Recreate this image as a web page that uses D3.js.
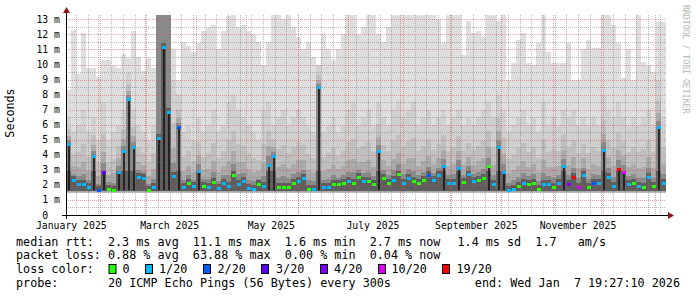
<!DOCTYPE html>
<html>
<head>
<meta charset="utf-8">
<script src="https://cdn.jsdelivr.net/npm/d3@7"></script>
<style>
    body { margin: 0; background: #ffffff; }
    text { font-family: "DejaVu Sans Mono", monospace; white-space: pre; }
</style>
</head>
<body>
<div id="mainChart"></div>
<script>
// time range of the graph (360 days ending at "end:")
var startTime = new Date(Date.UTC(2025, 0, 12, 19, 27, 10));
var endTime = new Date(Date.UTC(2026, 0, 7, 19, 27, 10));
var binDays = 3;

// smoke: top of the lightest smoke, top of the middle smoke, median rtt (ms), lost pings of 20
var topRtt = [8.3, 12.3, 9.4, 12.1, 9.8, 9.8, 9.2, 10.3, 10.3, 9.9, 9.8, 10.7, 10.4, 12.2, 10.5, 9.6, 10.4, 9.8,
    13.3, 13.3, 13.3, 11, 9.0,
    11.5, 11.2, 10.8, 11.4, 12.2, 12.4, 12.6, 11.0, 12.2, 13.2, 13.3, 12.5, 12.6, 12.2, 12.0, 11.5, 10.0, 11.5, 13.3, 13.3, 13.0, 13.3, 12.5, 11.8,
    11.0, 11.5, 10.5, 10.0, 12.0, 11.0, 10.3, 11.0, 12.0, 13.3, 13.3, 12.0, 12.5, 13.3, 13.3, 12.0, 11.5, 12.5, 13.3, 13.3, 13.3, 13.3, 13.3, 13.3,
    13.3, 13.3, 13.3, 13.0, 11.4, 13.3, 13.3, 13.3, 10.6, 12.9, 12.1, 12.2, 11.8, 13.3, 13.3, 12.9, 13.3, 9.0, 10.1, 11.6, 12.1, 10.1, 10.0, 11.4,
    13.3, 10.8, 10.1, 10.1, 10.1, 11.4, 9.0, 9.0, 11.0, 11.6, 11.1, 11.1, 13.3, 13.3, 12.6, 11.4, 9.1, 11.0, 9.0, 13.3, 10.2, 10.0, 9.5, 12.8, 12.8];

var midRtt = [6.5, 5.5, 6, 7, 5.5, 6.5, 5, 7.5, 5, 5.5, 6, 7, 9.5, 7, 6, 5.5, 5, 6,
    13.3, 13.3, 13.3, 9, 8,
    5.5, 6, 5, 6.5, 5.5, 6, 7, 5.5, 6, 7.5, 8, 7, 6.5, 6, 5.5, 5, 7, 7.5, 6, 6.5, 7, 6, 6.5, 7,
    6.5, 6, 5.5, 10, 5.5, 6, 6.5, 5.5, 6, 7, 7.5, 6, 6.5, 7, 6, 7.5, 6.5, 6, 7, 7.5, 6.5, 7, 7.5, 6,
    6.5, 7, 6, 6.5, 7, 6, 6.5, 7, 6, 6.5, 6, 6.5, 7, 7.5, 6.5, 8, 7, 5.5, 6, 6.5, 7, 6, 6.5, 5.5,
    7.5, 6, 6.5, 6, 7, 6.5, 7, 6, 6.5, 6, 6.5, 6, 8, 7, 6.5, 7.5, 6.5, 6, 6.5, 6, 6.5, 7, 6, 9, 6.5];

var medianRtt = [4.7, 2.3, 2.0, 2.0, 1.8, 3.9, 1.6, 2.8, 1.7, 1.6, 2.8, 4.2, 7.7, 4.5, 2.5, 2.4, 1.6, 1.8,
    5.1, 11.1, 6.8, 2.55, 5.8,
    1.8, 2.1, 1.9, 2.9, 1.9, 1.8, 2.15, 1.75, 2.1, 1.9, 2.6, 2.0, 2.2, 1.75, 1.7, 2.0, 1.9, 3.3, 3.9, 1.8, 1.85, 1.85, 2.1, 2.2,
    2.4, 1.7, 1.7, 8.5, 1.8, 1.8, 2.0, 2.0, 2.1, 2.2, 2.1, 2.5, 2.2, 2.2, 2.0, 4.2, 2.4, 2.1, 2.3, 2.7, 2.1, 2.4, 2.2, 2.1,
    2.3, 2.6, 2.3, 2.6, 3.2, 2.1, 2.1, 3.1, 2.15, 2.7, 2.2, 2.3, 2.4, 3.2, 2.0, 4.5, 2.8, 1.6, 1.7, 1.9, 2.1, 2.0, 2.1, 1.7,
    2.0, 2.0, 1.8, 2.1, 3.2, 2.0, 2.5, 1.85, 2.6, 1.8, 2.1, 2.1, 4.3, 2.5, 1.9, 3.0, 2.8, 2.0, 2.1, 1.9, 1.8, 2.5, 1.9, 5.8, 2.1];

var lossCount = [1, 1, 1, 1, 1, 1, 2, 3, 0, 0, 1, 1, 1, 1, 1, 1, 0, 1,
    1, 1, 1, 1, 2,
    1, 0, 1, 1, 0, 1, 0, 1, 1, 1, 0, 1, 1, 1, 1, 0, 1, 1, 1, 0, 0, 0, 0, 1,
    1, 0, 1, 1, 1, 1, 0, 0, 0, 1, 0, 0, 1, 0, 0, 1, 0, 0, 1, 0, 1, 1, 0, 0,
    0, 2, 1, 1, 1, 1, 1, 1, 0, 1, 1, 0, 0, 0, 1, 1, 1, 1, 1, 0, 1, 0, 0, 0,
    1, 1, 0, 1, 1, 4, 19, 10, 1, 0, 2, 1, 1, 1, 1, 19, 10, 1, 0, 1, 0, 1, 0, 1, 1];

var lowestRtt = 1.45;

var yTicks = [0, 1, 2, 3, 4, 5, 6, 7, 8, 9, 10, 11, 12, 13];
var yTickLabels = ["0  ", "1 m", "2 m", "3 m", "4 m", "5 m", "6 m", "7 m", "8 m", "9 m", "10 m", "11 m", "12 m", "13 m"];

var lossLevels = [0, 1, 2, 3, 4, 10, 19];
var lossColors = ["#26ff00", "#00b8ff", "#0059ff", "#5e00ff", "#7e00ff", "#dd00ff", "#ff0000"];
var lossLabels = ["0", "1/20", "2/20", "3/20", "4/20", "10/20", "19/20"];

var medianLine = ["median rtt:  2.3 ms avg  11.1 ms max  1.6 ms min  2.7 ms now", "1.4 ms sd  1.7   am/s"];
var lossLine = "packet loss: 0.88 % avg  63.88 % max  0.00 % min  0.04 % now";
var probeLine = "probe:       20 ICMP Echo Pings (56 Bytes) every 300s";
var endLine = "end: Wed Jan  7 19:27:10 2026";

var width = 697, height = 297;

var svg = d3.select("#mainChart").append("svg")
    .attr("width", width)
    .attr("height", height);

var x = d3.scaleUtc().domain([startTime, endTime]).range([66, 666]);
var y = d3.scaleLinear().domain([0, 13.29]).range([215, 15]);

function lossColor(n) {
    var c = lossColors[0];
    lossLevels.forEach(function (lvl, i) { if (n >= lvl) c = lossColors[i]; });
    return c;
}

var bins = medianRtt.map(function (m, i) {
    return {
        t0: d3.utcDay.offset(startTime, binDays * i),
        t1: d3.utcDay.offset(startTime, binDays * (i + 1)),
        top: topRtt[i], mid: midRtt[i], med: m, loss: lossCount[i]
    };
});

// smoke layers, outermost first (lighter far from the median);
// where the middle smoke fills the whole height the darker smoke does too
var layers = [
    {fill: "#dedede", lo: lowestRtt, hi: function (d) { return d.top; }},
    {fill: "#d0d0d0", lo: lowestRtt + 0.03, hi: function (d) { return d.mid; }},
    {fill: "#c0c0c0", lo: lowestRtt + 0.06, hi: function (d) { return d.med + (d.mid - d.med) * 0.55; }},
    {fill: "#aaaaaa", lo: lowestRtt + 0.09, hi: function (d) { return d.med + (d.mid - d.med) * 0.3; }},
    {fill: "#8a8a8a", lo: lowestRtt + 0.12, hi: function (d) { return d.mid >= 13 ? d.top : d.med + (d.mid - d.med) * 0.14; }},
    {fill: "#5e5e5e", lo: lowestRtt + 0.15, hi: function (d) { return (d.mid >= 13 ? d.med : Math.min(d.med, 2.6)) + 0.3; }}
];

var smoke = svg.append("g").attr("shape-rendering", "crispEdges");
layers.forEach(function (layer) {
    smoke.append("g").selectAll("rect")
        .data(bins)
        .join("rect")
        .attr("x", function (d) { return x(d.t0); })
        .attr("width", function (d) { return x(d.t1) - x(d.t0); })
        .attr("y", function (d) { return y(Math.min(layer.hi(d), 13.29)); })
        .attr("height", function (d) { return Math.max(0, y(layer.lo) - y(Math.min(layer.hi(d), 13.29))); })
        .attr("fill", layer.fill);
});

// grid on top of the smoke
var grid = svg.append("g").attr("shape-rendering", "crispEdges");
var minorColor = "rgba(128,128,128,0.55)", majorColor = "rgba(225,70,70,0.5)";

d3.range(0.5, 13.3, 1).forEach(function (v) {
    grid.append("line").attr("x1", 66).attr("x2", 666).attr("y1", Math.round(y(v)) + 0.5).attr("y2", Math.round(y(v)) + 0.5)
        .attr("stroke", minorColor).attr("stroke-dasharray", "1,1");
});
d3.utcSunday.range(startTime, endTime).forEach(function (t) {
    grid.append("line").attr("x1", Math.round(x(t)) + 0.5).attr("x2", Math.round(x(t)) + 0.5).attr("y1", 15).attr("y2", 215)
        .attr("stroke", minorColor).attr("stroke-dasharray", "1,1");
});
yTicks.slice(1).forEach(function (v) {
    grid.append("line").attr("x1", 66).attr("x2", 666).attr("y1", Math.round(y(v)) + 0.5).attr("y2", Math.round(y(v)) + 0.5)
        .attr("stroke", majorColor).attr("stroke-dasharray", "1,1");
});
d3.utcMonth.range(startTime, endTime).forEach(function (t) {
    grid.append("line").attr("x1", Math.round(x(t)) + 0.5).attr("x2", Math.round(x(t)) + 0.5).attr("y1", 15).attr("y2", 215)
        .attr("stroke", majorColor).attr("stroke-dasharray", "1,1");
});

// median: thin dark core where the median jumps up, plus loss coloured marks
svg.append("g").selectAll("line")
    .data(bins.filter(function (d) { return d.med > 2.7; }))
    .join("line")
    .attr("x1", function (d) { return Math.round((x(d.t0) + x(d.t1)) / 2); })
    .attr("x2", function (d) { return Math.round((x(d.t0) + x(d.t1)) / 2); })
    .attr("y1", y(lowestRtt + 0.2))
    .attr("y2", function (d) { return y(d.med); })
    .attr("stroke", "#151515")
    .attr("stroke-width", 1.6);

svg.append("g").attr("shape-rendering", "crispEdges").selectAll("rect")
    .data(bins)
    .join("rect")
    .attr("x", function (d) { return (x(d.t0) + x(d.t1)) / 2 - 2; })
    .attr("width", 4)
    .attr("y", function (d) { return y(d.med) - 1.5; })
    .attr("height", 3)
    .attr("fill", function (d) { return lossColor(d.loss); });

// axes
var axisG = svg.append("g").attr("shape-rendering", "crispEdges");
axisG.append("line").attr("x1", 62).attr("x2", 669).attr("y1", 215.5).attr("y2", 215.5).attr("stroke", "#000");
axisG.append("line").attr("x1", 66.5).attr("x2", 66.5).attr("y1", 219).attr("y2", 12).attr("stroke", "#000");
svg.append("path").attr("d", "M668,212 L674,215.5 L668,219 Z").attr("fill", "#8b1a1a");
svg.append("path").attr("d", "M63,13 L66.5,7 L70,13 Z").attr("fill", "#8b1a1a");

svg.append("g").selectAll("text")
    .data(yTicks)
    .join("text")
    .attr("x", 60)
    .attr("y", function (d) { return y(d) + 3.5; })
    .attr("text-anchor", "end")
    .style("font-size", "9.8px")
    .attr("fill", "#000")
    .text(function (d, i) { return yTickLabels[i]; });

var monthLabels = d3.utcMonth.every(2).range(d3.utcMonth.floor(startTime), endTime)
    .filter(function (d) { return x(d3.utcDay.offset(d, 15)) < 640; });

svg.append("g").selectAll("text")
    .data(monthLabels)
    .join("text")
    .attr("x", function (d) { return x(d3.utcDay.offset(d, 15)); })
    .attr("y", 229)
    .attr("text-anchor", "middle")
    .style("font-size", "9.8px")
    .attr("fill", "#000")
    .text(function (d) { return d3.utcFormat("%B %Y")(d); });

svg.append("text")
    .attr("transform", "translate(14,113) rotate(-90)")
    .attr("text-anchor", "middle")
    .style("font-size", "11.7px")
    .attr("fill", "#000")
    .text("Seconds");

svg.append("text")
    .attr("transform", "translate(683,5) rotate(90)")
    .attr("text-anchor", "start")
    .style("font-size", "8.2px")
    .attr("fill", "#b5b5b5")
    .text("RRDTOOL / TOBI OETIKER");

// legend
var legend = svg.append("g").style("font-size", "11.75px").attr("fill", "#000");
legend.append("text").attr("x", 16).attr("y", 245.5).text(medianLine[0]);
legend.append("text").attr("x", 457.5).attr("y", 245.5).text(medianLine[1]);
legend.append("text").attr("x", 16).attr("y", 259).text(lossLine);
legend.append("text").attr("x", 16).attr("y", 273).text("loss color:");
legend.append("text").attr("x", 16).attr("y", 286.5).text(probeLine);
legend.append("text").attr("x", 680).attr("y", 286.5).attr("text-anchor", "end").text(endLine);

var boxX = [109, 145.5, 203.5, 261.5, 320.5, 378.5, 442.5];
var labelX = [122.5, 159, 217.5, 276, 334, 391.5, 456.5];
lossColors.forEach(function (c, i) {
    legend.append("rect").attr("x", boxX[i]).attr("y", 264.5).attr("width", 7).attr("height", 9)
        .attr("fill", c).attr("stroke", "#000").attr("stroke-width", 1);
    legend.append("text").attr("x", labelX[i]).attr("y", 273).text(lossLabels[i]);
});
</script>
</body>
</html>
